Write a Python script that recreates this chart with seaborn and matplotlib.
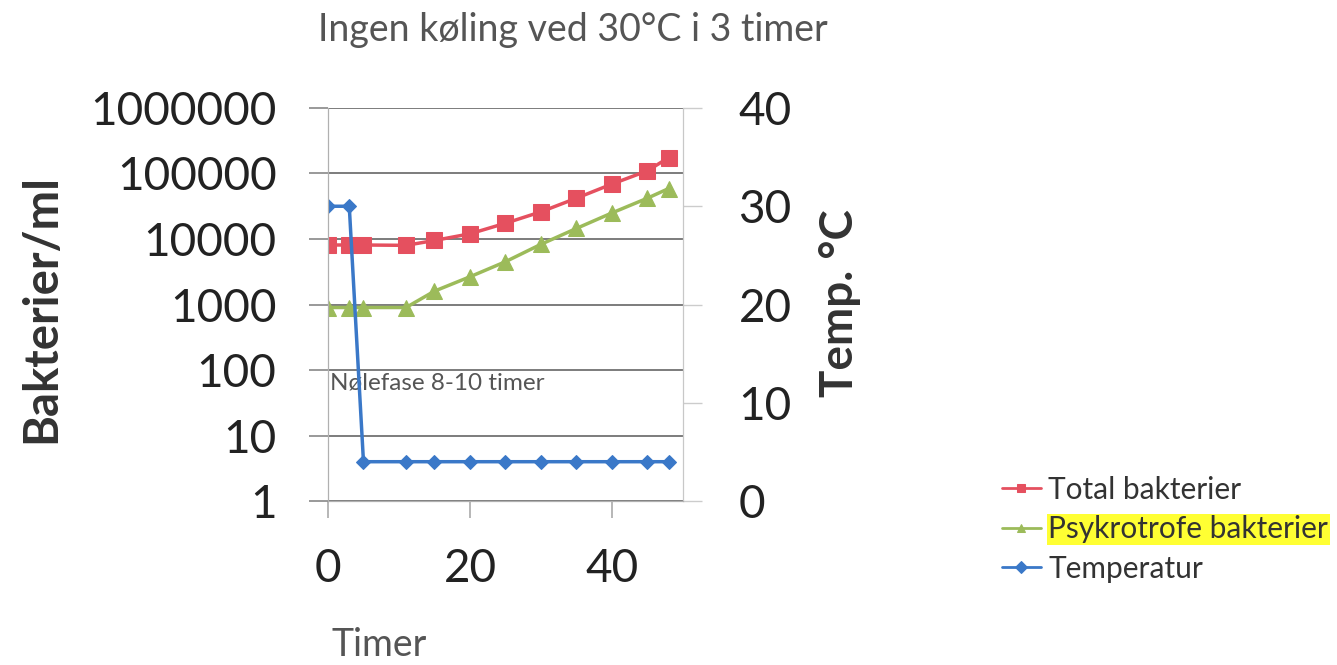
"""
Bakterievekst i melk uten kjøling
Total- og psykrotrofe bakterier (log-akse) og temperatur (høyre akse)
"""

import matplotlib
matplotlib.use("Agg")
import matplotlib.pyplot as plt
import numpy as np
import pandas as pd
import seaborn as sns

# data
timer = [0, 3, 5, 11, 15, 20, 25, 30, 35, 40, 45, 48]
total_bakterier = [8100, 8100, 8100, 8000, 9500, 12000, 17400, 26000, 42000, 69000, 110000, 175000]
psykrotrofe_bakterier = [900, 900, 900, 900, 1600, 2650, 4500, 8300, 14500, 25000, 42000, 59000]
temperatur = [30, 30, 4, 4, 4, 4, 4, 4, 4, 4, 4, 4]

left_ticks = [1, 10, 100, 1000, 10000, 100000, 1000000]
right_ticks = [0, 10, 20, 30, 40]
x_ticks = [0, 20, 40]

RED = "#e5505f"
GREEN = "#9cbb5a"
BLUE = "#3a78c8"

sns.set_style("white")
plt.rcParams["font.family"] = ["Lato", "DejaVu Sans"]

df = pd.DataFrame({
    "Timer": timer,
    "Total": total_bakterier,
    "Psykro": psykrotrofe_bakterier,
    "Temp": temperatur,
})

fig = plt.figure(figsize=(13.37, 6.65), dpi=100)
ax = fig.add_axes([0.2453, 0.2466, 0.2655, 0.591])
ax2 = ax.twinx()

sns.lineplot(data=df, x="Timer", y="Total", ax=ax, color=RED, marker="s",
             markersize=11, markeredgecolor=RED, linewidth=2.5,
             label="Total bakterier", legend=False)
sns.lineplot(data=df, x="Timer", y="Psykro", ax=ax, color=GREEN, marker="^",
             markersize=11, markeredgecolor=GREEN, linewidth=2.5,
             label="Psykrotrofe bakterier", legend=False)
sns.lineplot(data=df, x="Timer", y="Temp", ax=ax2, color=BLUE, marker="D",
             markersize=7, markeredgecolor=BLUE, linewidth=2.5,
             label="Temperatur", legend=False)

ax.set_yscale("log")
ax.set_ylim(1, 1000000)
ax.set_xlim(0, 50)
ax2.set_ylim(0, 40)

ax.set_yticks(left_ticks)
ax.set_yticklabels([str(v) for v in left_ticks])
ax.minorticks_off()
ax.set_xticks(x_ticks)
ax2.set_yticks(right_ticks)

ax.yaxis.grid(True, color="#666666", linewidth=1.2)
ax.set_axisbelow(True)

ax.set_xlabel("")
ax.set_ylabel("")
ax2.set_ylabel("")

for a in (ax, ax2):
    a.spines["top"].set_visible(False)
    a.spines["left"].set_color("#b0b0b0")
    a.spines["right"].set_color("#c8c8c8")
    a.spines["bottom"].set_color("#b0b0b0")

ax.tick_params(axis="y", which="major", direction="out", length=14, width=1.2,
               color="#888888", pad=23, labelsize=33, labelcolor="#222222", left=True)
ax.tick_params(axis="x", which="major", direction="out", length=12, width=1.2,
               color="#aaaaaa", pad=22, labelsize=33, labelcolor="#222222", bottom=True)
ax2.tick_params(axis="y", direction="out", length=14, width=1.0,
                color="#cccccc", pad=26, labelsize=33, labelcolor="#222222", right=True)

ax.text(0.3, 63, "Nølefase 8-10 timer", fontsize=17.5, color="#555555",
        va="center", ha="left")

fig.text(0.4286, 0.955, "Ingen køling ved 30°C i 3 timer", fontsize=27,
         color="#555555", ha="center", va="center")
fig.text(379 / 1337, 0.03, "Timer", fontsize=27, color="#555555",
         ha="center", va="center")
fig.text(0.031, 0.536, "Bakterier/ml", fontsize=34, fontweight="bold",
         color="#333333", rotation=90, ha="center", va="center")
fig.text(0.628, 0.544, "Temp. °C", fontsize=33, fontweight="bold",
         color="#333333", rotation=90, ha="center", va="center")

handles = ax.get_lines()[:2] + ax2.get_lines()[:1]
labels = ["Total bakterier", "Psykrotrofe bakterier", "Temperatur"]
leg = fig.legend(handles, labels, loc="upper left",
                 bbox_to_anchor=(990 / 1337, (665 - 464) / 665),
                 frameon=False, fontsize=21.5, handlelength=1.3,
                 handletextpad=0.25, labelspacing=0.38, borderaxespad=0)
for h in leg.legend_handles:
    h.set_markersize(6)
    h.set_linewidth(2)
for t in leg.get_texts():
    t.set_color("#333333")
leg.get_texts()[1].set_bbox(dict(facecolor="#ffff33", edgecolor="none", pad=1))

fig.savefig("out.png", dpi=100)
plt.close(fig)
